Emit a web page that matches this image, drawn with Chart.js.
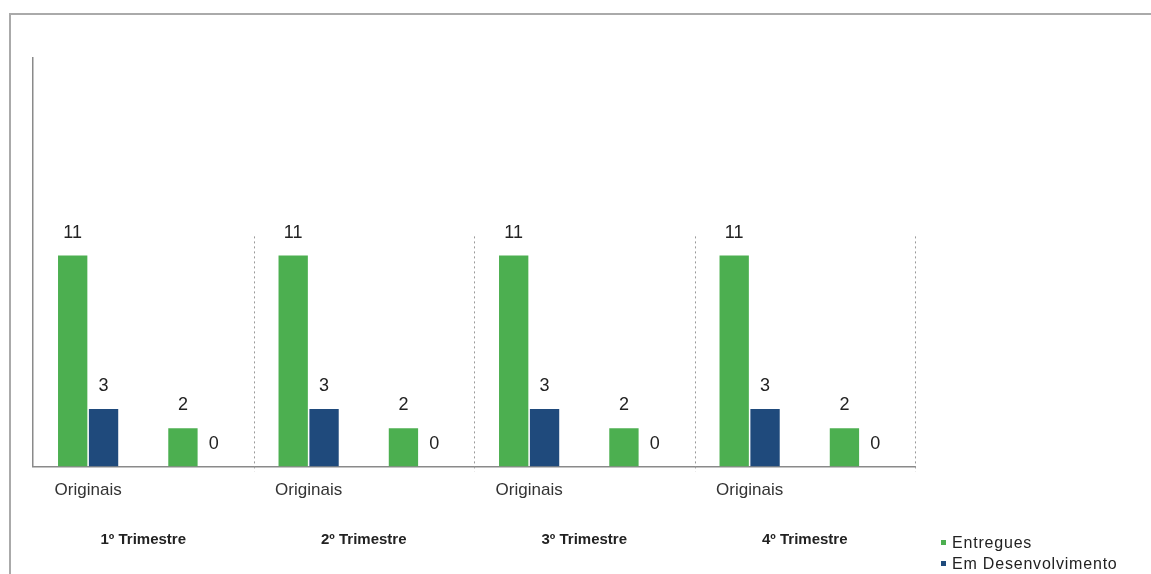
<!DOCTYPE html>
<html>
<head>
<meta charset="utf-8">
<script src="https://cdn.jsdelivr.net/npm/chart.js@4/dist/chart.umd.min.js"></script>
<style>
  html, body { margin: 0; padding: 0; background: #fff; }
  #wrap { position: relative; width: 1151px; height: 574px; overflow: hidden; }
  #frame { position: absolute; left: 9px; top: 13px; right: -5px; bottom: -5px;
           border-top: 2px solid #aaa; border-left: 2px solid #aaa; }
  #c { position: absolute; left: 0; top: 0; }
  #legend { position: absolute; left: 941px; top: 532px; font-family: "Liberation Sans", Arial, sans-serif;
            font-size: 16px; color: #222; line-height: 21px; letter-spacing: 0.8px; }
  #legend .it { display: flex; align-items: center; white-space: nowrap; }
  #legend .sw { width: 5px; height: 5px; margin-right: 6px; display: inline-block; }
</style>
</head>
<body>
<div id="wrap">
  <div id="frame"></div>
  <canvas id="c" width="1151" height="574"></canvas>
  <div id="legend"></div>
</div>
<script>
const categories = ['Originais', '', 'Originais', '', 'Originais', '', 'Originais', ''];
const trimestres = ['1º Trimestre', '2º Trimestre', '3º Trimestre', '4º Trimestre'];
const seriesNames = ['Entregues', 'Em Desenvolvimento'];
const entregues = [11, 2, 11, 2, 11, 2, 11, 2];
const emDesenvolvimento = [3, 0, 3, 0, 3, 0, 3, 0];
const seriesColors = ['#4caf50', '#1f4a7c'];

const FONT = '"Liberation Sans", Arial, sans-serif';

const valueLabels = {
  id: 'valueLabels',
  afterDatasetsDraw(chart) {
    const ctx = chart.ctx;
    ctx.save();
    ctx.font = '18px ' + FONT;
    ctx.fillStyle = '#222';
    ctx.textAlign = 'center';
    ctx.textBaseline = 'middle';
    chart.data.datasets.forEach((ds, di) => {
      chart.getDatasetMeta(di).data.forEach((bar, i) => {
        ctx.fillText(String(ds.data[i]), bar.x, bar.y - 23);
      });
    });
    ctx.restore();
  }
};

const separators = {
  id: 'separators',
  beforeDatasetsDraw(chart, args, opts) {
    const x = chart.scales.x, y = chart.scales.y, ctx = chart.ctx;
    const top = y.getPixelForValue(opts.topValue);
    const bottom = chart.chartArea.bottom + 5;
    ctx.save();
    ctx.strokeStyle = '#999';
    ctx.lineWidth = 1;
    ctx.setLineDash([2, 3]);
    for (let g = 1; g <= trimestres.length; g++) {
      const idx = g * 2;
      let px;
      if (idx >= categories.length) px = chart.chartArea.right;
      else px = (x.getPixelForValue(idx - 1) + x.getPixelForValue(idx)) / 2;
      px = Math.round(px) + 0.5;
      ctx.beginPath();
      ctx.moveTo(px, top);
      ctx.lineTo(px, bottom);
      ctx.stroke();
    }
    ctx.restore();
  }
};

const chart = new Chart(document.getElementById('c'), {
  type: 'bar',
  data: {
    labels: categories,
    datasets: [
      { label: seriesNames[0], data: entregues, backgroundColor: seriesColors[0],
        barPercentage: 0.95, categoryPercentage: 0.56 },
      { label: seriesNames[1], data: emDesenvolvimento, backgroundColor: seriesColors[1],
        barPercentage: 0.95, categoryPercentage: 0.56 }
    ]
  },
  options: {
    responsive: false,
    animation: false,
    layout: { padding: { left: 33, top: 58, right: 236, bottom: 9 } },
    plugins: {
      legend: { display: false },
      tooltip: { enabled: false },
      separators: { topValue: 12 }
    },
    scales: {
      x: {
        type: 'category',
        position: 'bottom',
        grid: { display: false, drawTicks: false },
        border: { display: true, color: '#8a8a8a', width: 1.5 },
        ticks: { font: { family: FONT, size: 17 }, color: '#333', padding: 14,
                 maxRotation: 0, autoSkip: false }
      },
      x2: {
        type: 'category',
        position: 'bottom',
        labels: trimestres,
        grid: { display: false, drawTicks: false },
        border: { display: false },
        ticks: { font: { family: FONT, size: 15, weight: 'bold' }, color: '#222', padding: 16,
                 maxRotation: 0, autoSkip: false }
      },
      y: {
        min: 0,
        max: 21.3,
        grid: { display: false, drawTicks: false },
        border: { display: true, color: '#8a8a8a', width: 1.5 },
        ticks: { display: false }
      }
    }
  },
  plugins: [separators, valueLabels]
});

const legendEl = document.getElementById('legend');
chart.data.datasets.forEach(ds => {
  const it = document.createElement('div');
  it.className = 'it';
  const sw = document.createElement('span');
  sw.className = 'sw';
  sw.style.background = ds.backgroundColor;
  const tx = document.createElement('span');
  tx.textContent = ds.label;
  it.appendChild(sw);
  it.appendChild(tx);
  legendEl.appendChild(it);
});
</script>
</body>
</html>
